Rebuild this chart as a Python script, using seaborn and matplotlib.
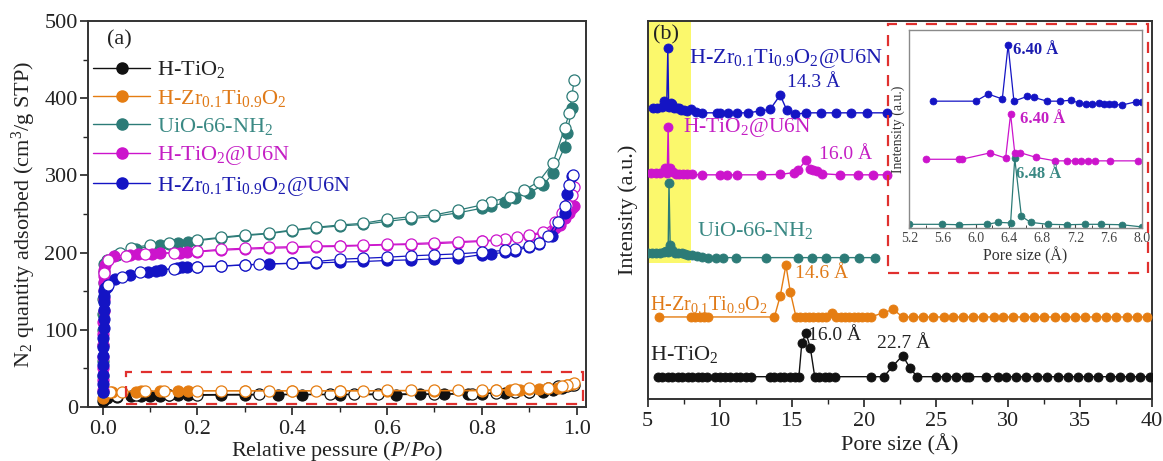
import matplotlib
matplotlib.use("Agg")
import matplotlib.pyplot as plt
import seaborn as sns
from matplotlib.lines import Line2D
from matplotlib.patches import Rectangle
from matplotlib.ticker import MultipleLocator, FormatStrFormatter

# ---------------- data: (a) N2 isotherms ----------------
names = ["H-TiO$_2$", "H-Zr$_{0.1}$Ti$_{0.9}$O$_2$", "UiO-66-NH$_2$",
         "H-TiO$_2$@U6N", "H-Zr$_{0.1}$Ti$_{0.9}$O$_2$@U6N"]
line_colors = ["#111111", "#e57d12", "#2c7b77", "#cc14cc", "#1414c4"]
text_colors = ["#222222", "#e07a18", "#3a8984", "#c41ec4", "#1c1cb0"]

tio2_ads_p = [0.0005, 0.002, 0.01, 0.03, 0.06, 0.08, 0.1, 0.12, 0.14, 0.16, 0.18, 0.25, 0.3, 0.37,
              0.42, 0.5, 0.62, 0.67, 0.72, 0.77, 0.8, 0.85, 0.9, 0.93, 0.95, 0.97, 0.99]
tio2_ads_q = [8, 10, 12, 13, 14, 14, 14.5, 14.5, 15, 15, 15, 15.5, 15.5, 16, 16, 16, 16, 16.5,
              16.5, 17, 17.5, 18, 19, 20, 22, 24, 28]
tio2_des_p = [0.995, 0.98, 0.96, 0.94, 0.9, 0.87, 0.83, 0.78, 0.7, 0.58, 0.53, 0.48, 0.33, 0.2,
              0.14, 0.07, 0.03]
tio2_des_q = [29, 27, 27, 24, 20, 19, 18, 17.5, 17, 17, 16.5, 16.5, 16.5, 16, 16, 15.5, 14]

zr_ads_p = [0.0005, 0.003, 0.02, 0.07, 0.08, 0.12, 0.16, 0.18, 0.3, 0.4, 0.5, 0.6, 0.7, 0.8,
            0.83, 0.86, 0.88, 0.9, 0.92, 0.94, 0.96, 0.98, 0.99]
zr_ads_q = [12, 15, 19, 20, 20.5, 20.5, 20.5, 21, 21, 21, 21, 21, 21, 21, 21.5, 22, 22.5, 23,
            23.5, 24, 25, 28, 30]
zr_des_p = [0.995, 0.98, 0.97, 0.94, 0.9, 0.87, 0.83, 0.8, 0.75, 0.7, 0.65, 0.6, 0.55, 0.5,
            0.45, 0.4, 0.35, 0.3, 0.25, 0.2, 0.13, 0.09, 0.04, 0.015]
zr_des_q = [31, 29, 27, 25, 24, 23, 22.5, 22, 21.5, 21.5, 21.5, 21.5, 21, 21, 21, 21, 21, 21,
            21, 21, 20.5, 20.5, 20, 19]

uio_ads_p = [0.0004, 0.0006, 0.0008, 0.001, 0.0012, 0.0014, 0.0016, 0.0018, 0.002, 0.003,
             0.01, 0.03, 0.07, 0.1, 0.12, 0.14, 0.16, 0.18, 0.2, 0.25, 0.3, 0.35, 0.4, 0.45,
             0.5, 0.55, 0.6, 0.65, 0.7, 0.75, 0.8, 0.82, 0.85, 0.87, 0.9, 0.93, 0.95, 0.975,
             0.98, 0.99]
uio_ads_q = [20, 40, 60, 80, 100, 120, 140, 160, 175, 185, 190, 197, 205, 208, 210, 211, 213,
             214, 215.5, 219, 222, 224.5, 228.5, 232, 234.5, 236.5, 240.5, 244, 247, 251.5,
             257.5, 260, 265, 271, 277.6, 287.6, 302.7, 337, 354.5, 386.8]
uio_des_p = [0.995, 0.99, 0.985, 0.975, 0.95, 0.92, 0.89, 0.86, 0.82, 0.8, 0.75, 0.7, 0.65,
             0.6, 0.55, 0.5, 0.45, 0.4, 0.35, 0.3, 0.25, 0.2, 0.14, 0.1, 0.06, 0.037]
uio_des_q = [423.4, 402.7, 381, 361.7, 315.6, 291.9, 281, 272.4, 266, 261.7, 255, 248.8, 246.6,
             243.2, 238, 235.8, 232.8, 229.4, 225.1, 222.9, 219.9, 216.4, 213, 210, 206, 199]

tu_ads_p = [0.0004, 0.0006, 0.0008, 0.001, 0.0012, 0.0014, 0.0016, 0.0018, 0.002, 0.0022,
            0.0024, 0.0026, 0.003, 0.005, 0.024, 0.058, 0.075, 0.104, 0.122, 0.164, 0.178, 0.2,
            0.25, 0.3, 0.35, 0.4, 0.45, 0.5, 0.55, 0.6, 0.65, 0.7, 0.75, 0.8, 0.85, 0.9, 0.93,
            0.955, 0.965, 0.975, 0.985, 0.99, 0.995]
tu_ads_q = [22, 35, 50, 65, 80, 95, 110, 125, 140, 152, 162, 170, 178, 184, 195.7, 197, 198,
            198.5, 199, 200, 200.5, 201, 203, 204.5, 205.5, 206.5, 207.5, 208, 209, 210, 210.5,
            211.5, 213, 214.5, 216.5, 221, 226, 232, 236, 244.4, 250.9, 257.4, 260]
tu_des_p = [0.995, 0.99, 0.98, 0.97, 0.955, 0.93, 0.9, 0.875, 0.85, 0.83, 0.8, 0.75, 0.7, 0.65,
            0.6, 0.55, 0.5, 0.45, 0.4, 0.35, 0.3, 0.25, 0.2, 0.15, 0.09, 0.05, 0.012, 0.003]
tu_des_q = [285.5, 275, 262, 250.9, 240, 227.2, 222.9, 219.9, 217.3, 216.4, 215.5, 214.2,
            212.9, 211.6, 210.7, 209.8, 209, 208.6, 207.7, 206.9, 205.6, 204.4, 201.6, 200,
            198.5, 195, 190.6, 174]

zu_ads_p = [0.0005, 0.0007, 0.0009, 0.0011, 0.0013, 0.0015, 0.0017, 0.0019, 0.0021, 0.0023,
            0.0025, 0.0027, 0.003, 0.005, 0.01, 0.026, 0.058, 0.096, 0.112, 0.124, 0.156, 0.167,
            0.177, 0.2, 0.25, 0.3, 0.35, 0.4, 0.45, 0.5, 0.55, 0.6, 0.65, 0.7, 0.75, 0.8, 0.82,
            0.85, 0.87, 0.9, 0.92, 0.948, 0.975, 0.98, 0.99]
zu_ads_q = [19, 30, 42, 54, 66, 78, 90, 102, 114, 126, 136, 144, 150, 154, 156, 165.6, 171.2,
            175.5, 176.8, 177.6, 179.8, 181.1, 181.1, 181.5, 182.5, 184, 185.4, 186, 186.6,
            187.7, 188.5, 189.8, 190.6, 191.9, 193.1, 197.4, 198.3, 200.5, 201.8, 207.8, 211.3,
            221.6, 251, 275.9, 299.2]
zu_des_p = [0.993, 0.985, 0.975, 0.96, 0.94, 0.92, 0.9, 0.87, 0.85, 0.8, 0.75, 0.7, 0.65, 0.6,
            0.55, 0.5, 0.45, 0.4, 0.33, 0.3, 0.25, 0.2, 0.15, 0.079, 0.04, 0.012]
zu_des_q = [300, 287.6, 260.4, 240, 222, 213, 209, 205, 203, 200.5, 198.4, 197.1, 195.8, 194,
            192.7, 191.4, 188.4, 186.3, 185, 184.1, 182.8, 181.9, 179, 175.5, 168, 158.2]

# ---------------- data: (b) pore size distributions ----------------
tio2_d = [5.7, 6.0, 6.4, 6.7, 7.1, 7.4, 7.8, 8.1, 8.5, 8.8, 9.1, 9.7, 10.0, 10.4, 10.7, 11.1,
          11.4, 11.8, 12.2, 13.5, 13.8, 14.2, 14.5, 14.9, 15.2, 15.5, 15.7, 16.0, 16.3, 16.6,
          16.9, 17.3, 17.6, 18.0, 20.5, 21.4, 22.0, 22.7, 23.2, 23.7, 25.0, 25.7, 26.4, 27.1,
          27.3, 28.5, 29.3, 29.9, 30.6, 31.3, 32.0, 32.7, 33.5, 34.2, 34.9, 35.6, 36.3, 37.1,
          37.8, 38.5, 39.2, 39.9]
tio2_i = [5.9, 5.9, 5.9, 5.9, 5.9, 5.9, 5.9, 5.9, 5.9, 5.9, 5.9, 5.9, 5.9, 5.9, 5.9, 5.9,
          5.9, 5.9, 5.9, 5.9, 5.9, 5.9, 5.9, 5.9, 5.9, 5.9, 14.7, 17.4, 13.4, 5.9,
          5.9, 5.9, 5.9, 5.9, 5.9, 5.9, 8.6, 11.5, 8.3, 5.9, 5.9, 5.9, 5.9, 5.9,
          5.9, 5.9, 5.9, 5.9, 5.9, 5.9, 5.9, 5.9, 5.9, 5.9, 5.9, 5.9, 5.9, 5.9,
          5.9, 5.9, 5.9, 5.9]
zr_d = [5.8, 8.0, 8.3, 8.6, 8.9, 9.2, 13.8, 14.2, 14.6, 14.9, 15.3, 15.6, 15.9, 16.2, 16.5,
        16.8, 17.1, 17.4, 17.8, 18.1, 18.4, 18.7, 19.0, 19.3, 19.6, 19.9, 20.2, 20.5, 21.35,
        22.05, 22.7, 23.4, 24.1, 24.8, 25.55, 26.2, 26.9, 27.6, 28.3, 29.05, 29.7, 30.4, 31.1,
        31.8, 32.5, 33.3, 33.95, 34.7, 35.4, 36.15, 36.85, 37.5, 38.3, 39.0, 39.7]
zr_i = [21.7, 21.7, 21.7, 21.7, 21.7, 21.7, 21.7, 27.2, 35.4, 28.4, 21.7, 21.7, 21.7, 21.7, 21.7,
        21.7, 21.7, 21.7, 22.7, 21.7, 21.7, 21.7, 21.7, 21.7, 21.7, 21.7, 21.7, 21.7, 22.8,
        23.7, 21.7, 21.7, 21.7, 21.7, 21.7, 21.7, 21.7, 21.7, 21.7, 21.7, 21.7, 21.7, 21.7,
        21.7, 21.7, 21.7, 21.7, 21.7, 21.7, 21.7, 21.7, 21.7, 21.7, 21.7, 21.7]
uio_d = [5.05, 5.3, 5.6, 5.85, 6.1, 6.3, 6.42, 6.48, 6.56, 6.68, 6.9, 7.1, 7.35, 7.6, 7.8, 8.05,
         8.4, 8.8, 9.2, 9.75, 10.25, 11.1, 13.2, 15.45, 16.4, 17.4, 18.6, 19.7, 20.8]
uio_i = [38.6, 38.5, 38.7, 38.6, 38.8, 39.2, 39.0, 57.1, 40.7, 39.3, 38.6, 38.6, 38.5, 38.3,
         38.2, 38.0, 37.7, 37.5, 37.4, 37.4, 37.4, 37.4, 37.4, 37.4, 37.4, 37.4, 37.4, 37.4, 37.4]
tu_d = [5.2, 5.6, 5.85, 6.17, 6.36, 6.42, 6.47, 6.53, 6.73, 6.96, 7.2, 7.45, 7.75, 8.05, 8.75,
        10.0, 10.5, 11.2, 12.9, 14.2, 15.15, 15.45, 16.0, 16.3, 16.5, 16.75, 17.1, 18.35, 19.6,
        20.65, 21.6]
tu_i = [59.8, 59.8, 59.8, 61.0, 59.9, 72.0, 60.9, 61.0, 60.0, 59.6, 59.6, 59.5, 59.4, 59.4,
        59.3, 59.3, 59.3, 59.3, 59.3, 59.4, 59.9, 60.6, 63.2, 60.8, 60.5, 60.4, 59.6, 59.3,
        59.3, 59.3, 59.3]
zu_d = [5.35, 5.65, 6.0, 6.15, 6.32, 6.40, 6.46, 6.62, 6.7, 6.86, 7.02, 7.15, 7.3, 7.5, 7.7,
        8.0, 8.35, 8.75, 9.8, 10.0, 10.6, 11.2, 12.0, 12.8, 13.5, 14.2, 14.65, 15.2, 16.0,
        17.05, 18.1, 19.15, 20.2, 21.6]
zu_i = [77.1, 77.1, 77.2, 78.8, 77.4, 92.8, 77.2, 78.2, 78.0, 77.0, 77.0, 76.9, 76.5, 76.4,
        76.2, 76.6, 76.0, 75.7, 75.7, 75.7, 75.7, 75.7, 75.7, 76.2, 76.6, 80.4, 76.5, 75.3,
        75.7, 75.7, 75.7, 75.7, 75.7, 75.7]

# inset (5.2-8.0 A)
in_uio_d = [5.2, 5.59, 5.8, 6.13, 6.27, 6.42, 6.47, 6.55, 6.66, 6.87, 7.1, 7.32, 7.51, 7.76, 8.0]
in_uio_i = [2.0, 2.0, 1.8, 2.0, 3.0, 2.7, 35.2, 6.1, 3.0, 2.0, 1.8, 2.0, 2.0, 1.8, 0.7]
in_tu_d = [5.4, 5.8, 5.83, 6.17, 6.36, 6.42, 6.47, 6.53, 6.73, 6.96, 7.1, 7.2, 7.27, 7.35,
           7.44, 7.62, 7.96]
in_tu_i = [34.8, 34.8, 34.8, 38.0, 35.4, 57.6, 38.0, 38.2, 35.7, 34.0, 34.0, 34.0, 34.0, 34.0,
           34.0, 34.0, 34.0]
in_zu_d = [5.48, 6.0, 6.15, 6.32, 6.39, 6.46, 6.62, 6.7, 6.86, 7.02, 7.15, 7.25, 7.33, 7.4,
           7.48, 7.54, 7.6, 7.67, 7.76, 7.93, 8.0]
in_zu_i = [64.1, 64.1, 67.7, 65.2, 92.4, 64.1, 66.5, 66.0, 64.1, 64.1, 64.6, 63.0, 62.6, 62.5,
           63.1, 62.6, 62.5, 62.5, 62.1, 63.8, 63.5]

# ---------------- style ----------------
sns.set_theme(style="ticks")
plt.rcParams["font.family"] = ["Liberation Serif", "DejaVu Serif"]
plt.rcParams["mathtext.fontset"] = "custom"
plt.rcParams["mathtext.rm"] = "Liberation Serif"
plt.rcParams["mathtext.it"] = "Liberation Serif:italic"
plt.rcParams["mathtext.bf"] = "Liberation Serif:bold"
plt.rcParams["axes.unicode_minus"] = False

FS = 16
fig = plt.figure(figsize=(11.63, 4.61), dpi=100)

# ================= panel (a) =================
axa = fig.add_axes([0.0759, 0.1171, 0.428, 0.8373])
iso = [(tio2_ads_p, tio2_ads_q, tio2_des_p, tio2_des_q),
       (zr_ads_p, zr_ads_q, zr_des_p, zr_des_q),
       (uio_ads_p, uio_ads_q, uio_des_p, uio_des_q),
       (tu_ads_p, tu_ads_q, tu_des_p, tu_des_q),
       (zu_ads_p, zu_ads_q, zu_des_p, zu_des_q)]
for k, (ap, aq, dp, dq) in enumerate(iso):
    c = line_colors[k]
    sns.lineplot(x=ap, y=aq, ax=axa, sort=False, estimator=None, color=c, linewidth=0.9,
                 marker="o", markersize=8, markerfacecolor=c, markeredgecolor=c,
                 markeredgewidth=0.8, zorder=3 + 2 * k)
    sns.lineplot(x=dp, y=dq, ax=axa, sort=False, estimator=None, color=c, linewidth=0.9,
                 marker="o", markersize=8, markerfacecolor="white", markeredgecolor=c,
                 markeredgewidth=0.9, zorder=4 + 2 * k)

axa.set_xlim(-0.0304, 1.02)
axa.set_ylim(0, 500)
axa.xaxis.set_major_locator(MultipleLocator(0.2))
axa.xaxis.set_minor_locator(MultipleLocator(0.1))
axa.yaxis.set_major_locator(MultipleLocator(100))
axa.yaxis.set_minor_locator(MultipleLocator(50))
axa.xaxis.set_major_formatter(FormatStrFormatter("%.1f"))
axa.tick_params(axis="both", which="major", direction="out", length=6, width=1.2,
                labelsize=FS, colors="#222222")
axa.tick_params(axis="both", which="minor", direction="out", length=3.5, width=1.0)
axa.tick_params(axis="x", which="major", pad=3)
axa.tick_params(axis="y", which="major", pad=1.5)
for s in axa.spines.values():
    s.set_linewidth(1.4)
    s.set_color("#333333")
axa.set_xlabel("Relative pessure ($P$/$Po$)", fontsize=FS, labelpad=0, color="#222222")
axa.set_ylabel("N$_2$ quantity adsorbed (cm$^3$/g STP)", fontsize=FS, labelpad=5,
               color="#222222")
axa.text(0.038, 0.95, "(a)", transform=axa.transAxes, fontsize=FS, ha="left", va="center",
         color="#222222")
axa.add_patch(Rectangle((0.05, 4.3), 0.963, 40.5, fill=False, edgecolor="#e0302e",
                        linestyle=(0, (5, 4)), linewidth=1.6, clip_on=False, zorder=20))

handles = [Line2D([0], [0], color=c, marker="o", markersize=8, linewidth=1.0,
                  markerfacecolor=c, markeredgecolor=c) for c in line_colors]
leg = axa.legend(handles, names, loc="upper left", bbox_to_anchor=(0.0, 0.912),
                 frameon=False, fontsize=FS, handlelength=2.6, handletextpad=0.3,
                 labelspacing=0.33, borderaxespad=0.0, borderpad=0.2)
for t, c in zip(leg.get_texts(), text_colors):
    t.set_color(c)

# ================= panel (b) =================
axb = fig.add_axes([0.5569, 0.1345, 0.4334, 0.82])
axb.add_patch(Rectangle((5, 35.9), 3, 64.1, facecolor="#fbf86c", edgecolor="none", zorder=0))
psd = [(tio2_d, tio2_i), (zr_d, zr_i), (uio_d, uio_i), (tu_d, tu_i), (zu_d, zu_i)]
for k, (d, i) in enumerate(psd):
    c = line_colors[k]
    sns.lineplot(x=d, y=i, ax=axb, sort=False, estimator=None, color=c, linewidth=1.0,
                 marker="o", markersize=6.5, markerfacecolor=c, markeredgecolor=c,
                 markeredgewidth=0.6, zorder=3)
axb.set_xlim(5, 40)
axb.set_ylim(0, 100)
axb.set_yticks([])
axb.xaxis.set_major_locator(MultipleLocator(5))
axb.xaxis.set_minor_locator(MultipleLocator(2.5))
axb.tick_params(axis="x", which="major", direction="out", length=5.5, width=1.2, labelsize=FS,
                pad=4, colors="#222222")
axb.tick_params(axis="x", which="minor", direction="out", length=3.5, width=1.0)
for s in axb.spines.values():
    s.set_linewidth(1.4)
    s.set_color("#333333")
axb.set_xlabel("Pore size (Å)", fontsize=FS, labelpad=2, color="#222222")
axb.set_ylabel("Intensity (a.u.)", fontsize=FS, labelpad=7, color="#222222")
axb.text(0.01, 0.963, "(b)", transform=axb.transAxes, fontsize=FS, ha="left", va="center",
         color="#222222")

notes = [("H-Zr$_{0.1}$Ti$_{0.9}$O$_2$@U6N", 7.9, 88.9, 4, 16),
         ("14.3 Å", 14.65, 82.6, 4, 14),
         ("H-TiO$_2$@U6N", 7.45, 70.7, 3, 15.5),
         ("16.0 Å", 16.9, 63.5, 3, 14),
         ("UiO-66-NH$_2$", 8.4, 43.2, 2, 16),
         ("14.6 Å", 15.2, 31.9, 1, 14),
         ("H-Zr$_{0.1}$Ti$_{0.9}$O$_2$", 5.15, 23.5, 1, 14.5),
         ("16.0 Å", 16.15, 15.6, 0, 14),
         ("H-TiO$_2$", 5.15, 10.3, 0, 16),
         ("22.7 Å", 20.9, 13.6, 0, 14)]
for txt, x, y, k, fs in notes:
    axb.text(x, y, txt, fontsize=fs, color=text_colors[k], ha="left", va="baseline", zorder=5)

# red dashed frame around inset
fig.add_artist(Rectangle((0.7638, 0.4078), 0.2236, 0.5401, transform=fig.transFigure,
                         fill=False, edgecolor="#e0302e", linestyle=(0, (5, 4)),
                         linewidth=1.6))

# ================= inset =================
axi = fig.add_axes([0.7819, 0.5048, 0.1998, 0.4302])
ins = [(in_uio_d, in_uio_i, 2), (in_tu_d, in_tu_i, 3), (in_zu_d, in_zu_i, 4)]
for d, i, k in ins:
    c = line_colors[k]
    sns.lineplot(x=d, y=i, ax=axi, sort=False, estimator=None, color=c, linewidth=0.9,
                 marker="o", markersize=5, markerfacecolor=c, markeredgecolor=c,
                 markeredgewidth=0.5)
axi.set_xlim(5.2, 8.0)
axi.set_ylim(0, 100)
axi.set_yticks([])
axi.xaxis.set_major_locator(MultipleLocator(0.4))
axi.xaxis.set_minor_locator(MultipleLocator(0.2))
axi.xaxis.set_major_formatter(FormatStrFormatter("%.1f"))
axi.tick_params(axis="x", which="major", direction="in", length=3, width=0.8, labelsize=10,
                pad=3, colors="#444444")
axi.tick_params(axis="x", which="minor", direction="in", length=2, width=0.6)
for s in axi.spines.values():
    s.set_linewidth(1.0)
    s.set_color("#8a8a8a")
axi.set_xlabel("Pore size (Å)", fontsize=11.5, labelpad=1, color="#333333")
axi.set_ylabel("Inetensity (a.u.)", fontsize=10, labelpad=3, color="#333333")
inotes = [("6.40 Å", 6.45, 89.9, 4), ("6.40 Å", 6.53, 55.1, 3), ("6.48 Å", 6.49, 27.4, 2)]
for txt, x, y, k in inotes:
    axi.text(x, y, txt, fontsize=12, fontweight="bold", color=text_colors[k], ha="left",
             va="center")

fig.savefig("out.png", dpi=100)
